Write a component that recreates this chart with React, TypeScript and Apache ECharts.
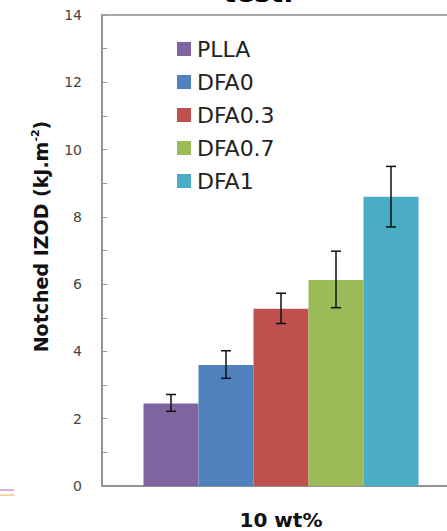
import React, { useEffect, useRef } from "react";
import * as echarts from "echarts";

const categories = ["10 wt%"];
const seriesNames = ["PLLA", "DFA0", "DFA0.3", "DFA0.7", "DFA1"];
const seriesValues = [2.45, 3.6, 5.27, 6.12, 8.6];
const errorLow = [2.22, 3.2, 4.83, 5.3, 7.7];
const errorHigh = [2.72, 4.02, 5.73, 6.98, 9.5];
const colors = ["#8064a2", "#4f81bd", "#c0504d", "#9bbb59", "#4bacc6"];
const yTicks = { min: 0, max: 14, interval: 2 };

const BAR_W = 55;

export default function App() {
  const ref = useRef<HTMLDivElement>(null);
  useEffect(() => {
    if (!ref.current) return;
    const chart = echarts.init(ref.current, undefined, { renderer: "svg" });
    const n = seriesNames.length;
    const barSeries = seriesNames.map((name, i) => ({
      name,
      type: "bar",
      data: [seriesValues[i]],
      barWidth: BAR_W,
      barGap: "0%",
      itemStyle: { color: colors[i] },
      z: 2,
    }));
    const errData = seriesNames.map((_, i) => [i, errorLow[i], errorHigh[i]]);
    const errSeries = {
      type: "custom",
      name: "err",
      z: 5,
      data: errData,
      renderItem: (params: any, api: any) => {
        const idx = api.value(0);
        const lo = api.coord([0, api.value(1)]);
        const hi = api.coord([0, api.value(2)]);
        const x = lo[0] + (idx - (n - 1) / 2) * BAR_W;
        const cap = 5;
        const style = { stroke: "#111", lineWidth: 1.5 };
        return {
          type: "group",
          children: [
            { type: "line", shape: { x1: x, y1: lo[1], x2: x, y2: hi[1] }, style },
            { type: "line", shape: { x1: x - cap, y1: lo[1], x2: x + cap, y2: lo[1] }, style },
            { type: "line", shape: { x1: x - cap, y1: hi[1], x2: x + cap, y2: hi[1] }, style },
          ],
        };
      },
    };
    chart.setOption({
      animation: false,
      backgroundColor: "#fff",
      grid: {
        left: 102,
        top: 15,
        width: 358,
        height: 471,
        outerBoundsMode: "none",
        containLabel: false,
        show: true,
        borderColor: "#8c8c8c",
        borderWidth: 1.5,
        backgroundColor: "transparent",
      },
      legend: {
        data: seriesNames,
        orient: "vertical",
        left: 172,
        top: 33,
        icon: "rect",
        itemWidth: 14,
        itemHeight: 14,
        itemGap: 11,
        textStyle: {
          fontFamily: "DejaVu Sans",
          fontSize: 22,
          color: "#222",
          padding: [0, 0, 0, 1],
        },
      },
      xAxis: {
        type: "category",
        data: categories,
        axisLine: { lineStyle: { color: "#8c8c8c", width: 1.5 } },
        axisTick: { show: false },
        axisLabel: {
          margin: 24,
          fontFamily: "DejaVu Sans",
          fontWeight: "bold",
          fontSize: 20,
          color: "#111",
        },
      },
      yAxis: {
        type: "value",
        min: yTicks.min,
        max: yTicks.max,
        interval: yTicks.interval,
        axisLine: { show: true, lineStyle: { color: "#8c8c8c", width: 1.5 } },
        axisTick: { show: true, inside: true, length: 5, lineStyle: { color: "#999" } },
        minorTick: { show: true, splitNumber: 2, length: 5, lineStyle: { color: "#999" } },
        splitLine: { show: false },
        axisLabel: {
          margin: 20,
          fontFamily: "DejaVu Sans",
          fontSize: 14,
          color: "#444",
        },
        name: "Notched IZOD (kJ.m{sup|-2})",
        nameLocation: "middle",
        nameGap: 51,
        nameTextStyle: {
          fontFamily: "DejaVu Sans",
          fontWeight: "bold",
          fontSize: 19,
          color: "#111",
          padding: [0, 0, 0, 28],
          rich: {
            sup: {
              fontFamily: "DejaVu Sans",
              fontWeight: "bold",
              fontSize: 11,
              color: "#111",
              verticalAlign: "top",
              padding: [0, 0, 10, 0],
            },
          },
        },
      },
      graphic: [
        {
          type: "text",
          left: 223,
          top: -21,
          style: {
            text: "test.",
            font: "bold 27px 'DejaVu Sans'",
            fill: "#000",
          },
        },
        {
          type: "line",
          shape: { x1: 0, y1: 490, x2: 14, y2: 490 },
          style: { stroke: "#c49ad6", lineWidth: 1.5 },
        },
        {
          type: "line",
          shape: { x1: 0, y1: 495, x2: 14, y2: 495 },
          style: { stroke: "#f0c88a", lineWidth: 1.5 },
        },
      ],
      series: [...barSeries, errSeries],
    });
    return () => chart.dispose();
  }, []);
  return (
    <div
      ref={ref}
      style={{ position: "absolute", left: 0, top: 0, width: 447, height: 531 }}
    />
  );
}
